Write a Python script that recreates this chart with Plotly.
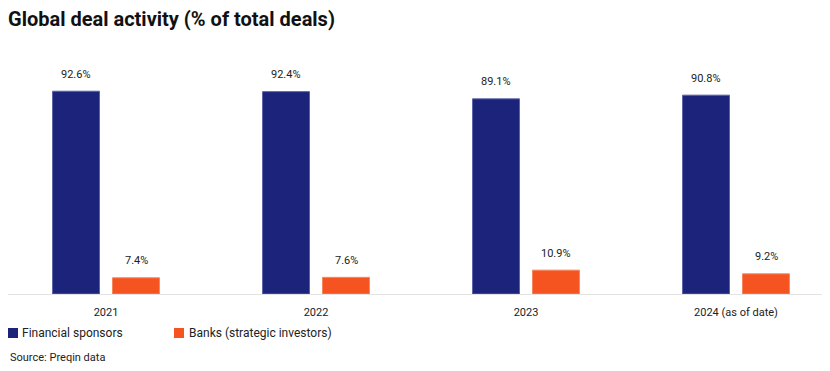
import plotly.graph_objects as go

categories = ["2021", "2022", "2023", "2024 (as of date)"]
financial_sponsors = [92.6, 92.4, 89.1, 90.8]
banks = [7.4, 7.6, 10.9, 9.2]
series_names = ["Financial sponsors", "Banks (strategic investors)"]

NAVY = "#1b237a"
ORANGE = "#f5531f"
FONT = "Roboto"
TXT = "#222222"

W, H = 822, 363          # page body has an 8px margin in the screenshot
T, B = 67, 77
PH = H - T - B           # plot height in px


def py(screen_y):
    """screen y (px) -> paper fraction"""
    return (H - B - (screen_y - 8)) / PH


def px(screen_x):
    return (screen_x - 8) / W


fig = go.Figure()
fig.add_trace(go.Bar(
    x=categories, y=financial_sponsors, name=series_names[0],
    marker=dict(color=NAVY, line=dict(width=1, color="#5c62a8")),
))
fig.add_trace(go.Bar(
    x=categories, y=banks, name=series_names[1],
    marker=dict(color=ORANGE, line=dict(width=1, color="#f7865e")),
))

annotations = []
for vals, shift in ((financial_sponsors, -30), (banks, 30)):
    for i, v in enumerate(vals):
        annotations.append(dict(
            x=i, y=v, xref="x", yref="y", text=f"{v:.1f}%", showarrow=False,
            xshift=shift, yshift=17, yanchor="middle", xanchor="center",
            font=dict(size=11, family=FONT, color=TXT)))

# legend drawn by hand to match the reference placement
shapes = []
legend_items = [(series_names[0], NAVY, 8, 21), (series_names[1], ORANGE, 174, 188)]
for name, col, sx, tx in legend_items:
    shapes.append(dict(type="rect", xref="paper", yref="paper",
                       x0=px(sx), x1=px(sx + 10), y0=py(338), y1=py(328),
                       fillcolor=col, line=dict(width=0)))
    annotations.append(dict(text=name, xref="paper", yref="paper", x=px(tx - 1),
                            y=py(333), xanchor="left", yanchor="middle", showarrow=False,
                            font=dict(size=12, family=FONT, color=TXT)))

annotations.append(dict(text="Source: Preqin data", xref="paper", yref="paper",
                        x=0, xanchor="left", y=py(357), yanchor="middle",
                        showarrow=False, font=dict(size=11, family=FONT, color=TXT)))

fig.update_layout(
    width=W, height=H,
    margin=dict(l=0, r=0, t=T, b=B, autoexpand=False),
    paper_bgcolor="white", plot_bgcolor="white",
    barmode="group", bargap=0.429, bargroupgap=0.217,
    font=dict(family=FONT, size=11, color=TXT),
    title=dict(text="<b>Global deal activity (% of total deals)</b>",
               x=0, xanchor="left", y=1 - 11 / H, yanchor="middle",
               font=dict(size=20, family=FONT, color="#111111")),
    showlegend=False,
    xaxis=dict(range=[-0.4667, 3.4476], showline=True, linecolor="#e3e3e3", linewidth=1,
               ticks="", ticklabelstandoff=8, tickfont=dict(size=11, color=TXT),
               showgrid=False, fixedrange=True),
    yaxis=dict(range=[0, 100], visible=False, showgrid=False, zeroline=False),
    annotations=annotations,
    shapes=shapes,
)

fig.write_html("out.html")
